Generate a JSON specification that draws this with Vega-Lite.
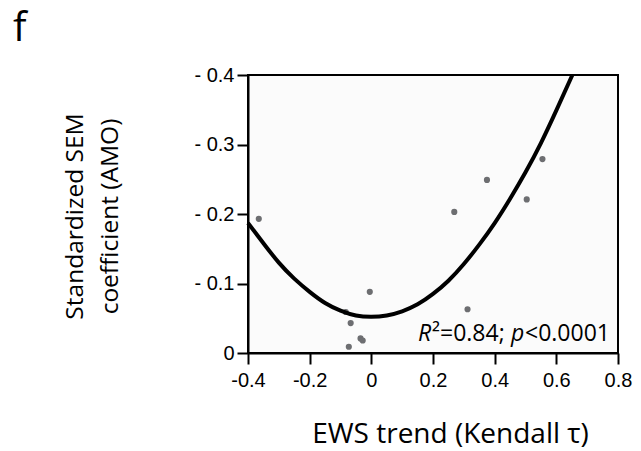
{
  "$schema": "https://vega.github.io/schema/vega-lite/v6.json",
  "width": 370,
  "height": 278,
  "autosize": {"type": "none"},
  "padding": {"left": 248, "top": 75, "right": 23, "bottom": 98},
  "background": "white",
  "title": {"text": "f", "anchor": "start", "frame": "group", "dx": -235, "offset": -16, "fontSize": 40, "font": "Open Sans", "fontWeight": "normal", "baseline": "alphabetic", "color": "black"},
  "config": {
    "view": {"stroke": "black", "strokeWidth": 2, "fill": "#fbfbfb"},
    "axis": {
      "grid": false,
      "domainColor": "black",
      "domainWidth": 2,
      "tickColor": "black",
      "tickWidth": 2,
      "tickSize": 11,
      "labelFont": "Liberation Sans",
      "labelFontSize": 20,
      "labelColor": "black",
      "labelFlush": false,
      "labelOverlap": false,
      "titleFont": "Open Sans",
      "titleFontWeight": "normal",
      "titleColor": "black"
    }
  },
  "datasets": {
    "curve": [
      {"tau": -0.4, "coef": 0.187},
      {"tau": -0.35, "coef": 0.158},
      {"tau": -0.3, "coef": 0.130},
      {"tau": -0.25, "coef": 0.107},
      {"tau": -0.2, "coef": 0.088},
      {"tau": -0.15, "coef": 0.072},
      {"tau": -0.1, "coef": 0.061},
      {"tau": -0.05, "coef": 0.054},
      {"tau": 0.0, "coef": 0.052},
      {"tau": 0.05, "coef": 0.054},
      {"tau": 0.1, "coef": 0.060},
      {"tau": 0.15, "coef": 0.070},
      {"tau": 0.2, "coef": 0.085},
      {"tau": 0.25, "coef": 0.104},
      {"tau": 0.3, "coef": 0.128},
      {"tau": 0.35, "coef": 0.156},
      {"tau": 0.4, "coef": 0.187},
      {"tau": 0.45, "coef": 0.222},
      {"tau": 0.5, "coef": 0.260},
      {"tau": 0.55, "coef": 0.302},
      {"tau": 0.6, "coef": 0.349},
      {"tau": 0.652, "coef": 0.400}
    ],
    "points": [
      {"tau": -0.365, "coef": 0.193},
      {"tau": -0.083, "coef": 0.059},
      {"tau": -0.067, "coef": 0.043},
      {"tau": -0.073, "coef": 0.009},
      {"tau": -0.035, "coef": 0.021},
      {"tau": -0.028, "coef": 0.018},
      {"tau": -0.005, "coef": 0.088},
      {"tau": 0.269, "coef": 0.203},
      {"tau": 0.312, "coef": 0.063},
      {"tau": 0.375, "coef": 0.249},
      {"tau": 0.504, "coef": 0.221},
      {"tau": 0.555, "coef": 0.279}
    ]
  },
  "layer": [
    {
      "data": {"name": "points"},
      "mark": {"type": "circle", "color": "#6d6e71", "opacity": 1, "size": 38},
      "encoding": {
        "x": {
          "field": "tau", "type": "quantitative",
          "scale": {"domain": [-0.4, 0.8], "nice": false, "zero": false},
          "axis": {
            "values": [-0.4, -0.2, 0, 0.2, 0.4, 0.6, 0.8],
            "labelExpr": "datum.value == 0 ? '0' : (datum.value < 0 ? '-' + format(-datum.value, '.1f') : format(datum.value, '.1f'))",
            "labelPadding": 6,
            "title": "EWS trend (Kendall τ)",
            "titleFontSize": 28,
            "titleX": 202,
            "titleY": 89,
            "titleAlign": "center",
            "titleBaseline": "alphabetic"
          }
        },
        "y": {
          "field": "coef", "type": "quantitative",
          "scale": {"domain": [0, 0.4], "nice": false},
          "axis": {
            "values": [0, 0.05, 0.1, 0.15, 0.2, 0.25, 0.3, 0.35, 0.4],
            "labelExpr": "datum.value == 0 ? '0' : (abs(datum.value * 10 - round(datum.value * 10)) < 0.001 ? '- ' + format(datum.value, '.1f') : '')",
            "labelPadding": 3,
            "title": ["Standardized SEM", "coefficient (AMO)"],
            "titleFontSize": 24.5,
            "titleAngle": -90,
            "titleX": -166,
            "titleY": 141,
            "titleAlign": "center",
            "titleBaseline": "alphabetic",
            "titleLineHeight": 35
          }
        }
      }
    },
    {
      "data": {"name": "curve"},
      "mark": {"type": "line", "color": "black", "strokeWidth": 4, "interpolate": "natural"},
      "encoding": {
        "x": {"field": "tau", "type": "quantitative"},
        "y": {"field": "coef", "type": "quantitative"}
      }
    },
    {
      "data": {"values": [{"label": "R", "tau": 0.8, "coef": 0.0167}]},
      "mark": {"type": "text", "align": "left", "baseline": "alphabetic", "dx": -200, "font": "Open Sans", "fontSize": 23, "fontStyle": "italic", "color": "black"},
      "encoding": {
        "x": {"field": "tau", "type": "quantitative"},
        "y": {"field": "coef", "type": "quantitative"},
        "text": {"field": "label"}
      }
    },
    {
      "data": {"values": [{"label": "²=0.84;", "tau": 0.8, "coef": 0.0167}]},
      "mark": {"type": "text", "align": "left", "baseline": "alphabetic", "dx": -186, "font": "Open Sans", "fontSize": 23, "color": "black"},
      "encoding": {
        "x": {"field": "tau", "type": "quantitative"},
        "y": {"field": "coef", "type": "quantitative"},
        "text": {"field": "label"}
      }
    },
    {
      "data": {"values": [{"label": "p", "tau": 0.8, "coef": 0.0167}]},
      "mark": {"type": "text", "align": "left", "baseline": "alphabetic", "dx": -107, "font": "Open Sans", "fontSize": 23, "fontStyle": "italic", "color": "black"},
      "encoding": {
        "x": {"field": "tau", "type": "quantitative"},
        "y": {"field": "coef", "type": "quantitative"},
        "text": {"field": "label"}
      }
    },
    {
      "data": {"values": [{"label": "<0.0001", "tau": 0.8, "coef": 0.0167}]},
      "mark": {"type": "text", "align": "left", "baseline": "alphabetic", "dx": -93, "font": "Open Sans", "fontSize": 23, "color": "black"},
      "encoding": {
        "x": {"field": "tau", "type": "quantitative"},
        "y": {"field": "coef", "type": "quantitative"},
        "text": {"field": "label"}
      }
    }
  ]
}
